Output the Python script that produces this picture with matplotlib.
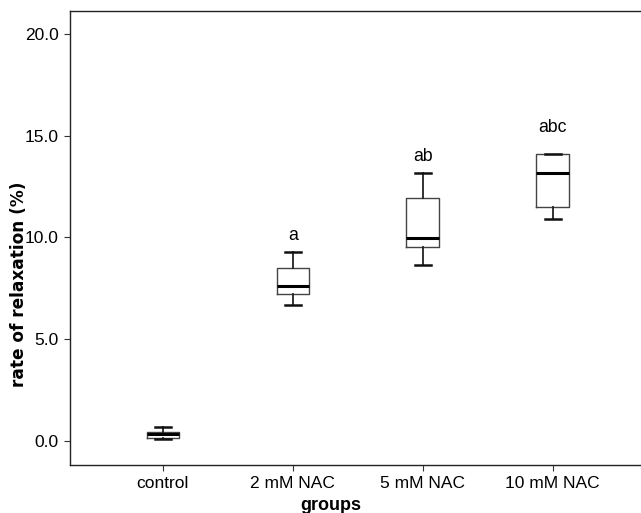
import matplotlib
matplotlib.use("Agg")
import matplotlib.pyplot as plt

plt.rcParams["font.family"] = ["Liberation Sans", "DejaVu Sans"]

# Grupos y estadísticos de cada caja (valores en %)
grupos = ["control", "2 mM NAC", "5 mM NAC", "10 mM NAC"]
minimos = [0.10, 6.67, 8.63, 10.93]
q1 = [0.17, 7.21, 9.53, 11.50]
medianas = [0.33, 7.60, 9.99, 13.19]
q3 = [0.46, 8.52, 11.94, 14.12]
maximos = [0.67, 9.29, 13.19, 14.12]

# Letras de significación y su altura
letras = ["", "a", "ab", "abc"]
altura_letras = [0.0, 10.1, 14.0, 15.4]

stats = []
for i, g in enumerate(grupos):
    stats.append({
        "label": g,
        "whislo": minimos[i],
        "q1": q1[i],
        "med": medianas[i],
        "q3": q3[i],
        "whishi": maximos[i],
        "fliers": [],
    })

fig = plt.figure(figsize=(6.41, 5.13), dpi=100)
ax = fig.add_axes([70 / 641, 48 / 513, 1 - 70 / 641, 454 / 513])

posiciones = list(range(1, len(grupos) + 1))
ax.bxp(
    stats,
    positions=posiciones,
    widths=0.25,
    showfliers=False,
    boxprops=dict(color="#444444", linewidth=1.0),
    medianprops=dict(color="black", linewidth=2.2),
    whiskerprops=dict(color="#222222", linewidth=1.3),
    capprops=dict(color="#111111", linewidth=1.8),
    capwidths=0.125,
)

for x, letra, h in zip(posiciones, letras, altura_letras):
    if letra:
        ax.text(x, h, letra, ha="center", va="center", fontsize=12.7)

ax.set_xlim(0.285, 4.68)
ax.set_ylim(-1.18, 21.13)
ax.set_yticks([0, 5, 10, 15, 20])
ax.set_yticklabels(["0.0", "5.0", "10.0", "15.0", "20.0"])
ax.set_xticks(posiciones)
ax.set_xticklabels(grupos)
ax.tick_params(labelsize=12.5, length=4, width=0.8, pad=4, color="#333333")

ax.spines["right"].set_visible(False)
for s in ax.spines.values():
    s.set_linewidth(1.0)
    s.set_color("#222222")

# Títulos de los ejes colocados a mano
fig.text(19 / 641, 1 - 284 / 513, "rate of relaxation (%)", rotation=90,
         ha="center", va="center", fontsize=12.2, fontweight="bold",
         family="DejaVu Sans")
fig.text(331 / 641, 1 - 510 / 513, "groups", ha="center", va="baseline",
         fontsize=13, fontweight="bold")

fig.savefig("out.png", dpi=100)
